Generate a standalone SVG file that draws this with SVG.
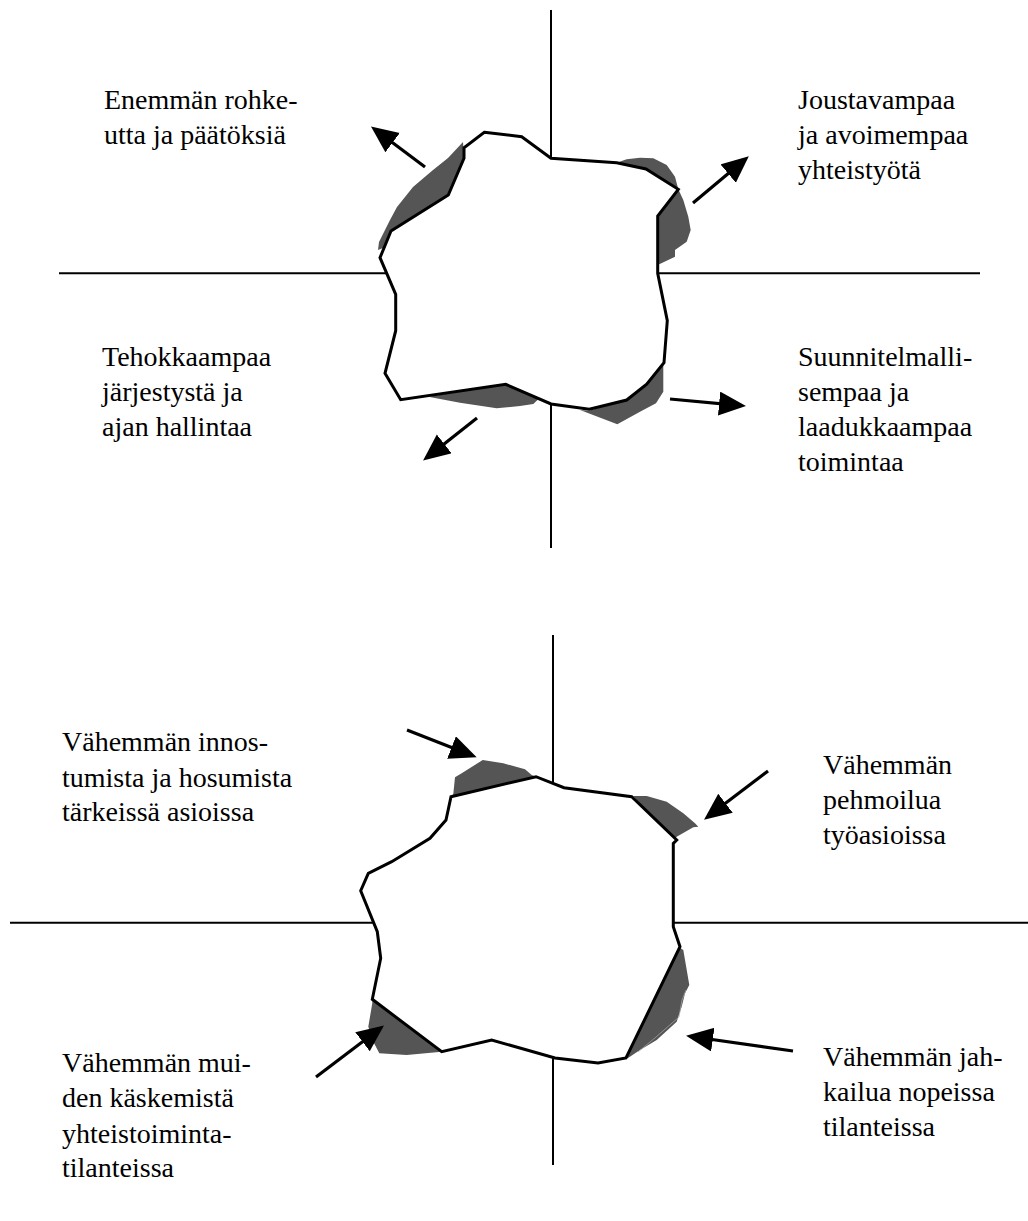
<svg xmlns="http://www.w3.org/2000/svg" width="1028" height="1221" viewBox="0 0 1028 1221">
<style>
.axis{stroke:#000;stroke-width:2;fill:none}
.blob{fill:#fff;stroke:#000;stroke-width:3;stroke-linejoin:miter}
.shade{fill:#555;stroke:none}
.arr{stroke:#000;stroke-width:3.2;fill:none;marker-end:url(#ah)}
.lbl{font-family:'Times New Roman','Liberation Serif',Times,serif;font-size:28px;fill:#000}
</style>
<defs>
<marker id="ah" markerUnits="userSpaceOnUse" markerWidth="30" markerHeight="26" refX="22" refY="12" orient="auto">
<path d="M0,0 L27,12 L0,24 z" fill="#000"/>
</marker>
</defs>
<rect width="1028" height="1221" fill="#fff"/>

<g id="top-diagram">
<g id="top-axes">
<line class="axis" x1="551" y1="10" x2="551" y2="548"/>
<line class="axis" x1="59" y1="273.3" x2="980" y2="273.3"/>
</g>
<g id="top-shading">
<polygon class="shade" points="378,250 379,242 390,220 397,207 413,187 433,170 448,158 463,142 464,158 448,195 391,231 383,248"/>
<polygon class="shade" points="616.7,162.7 626.7,159.3 640,157.7 653.3,158.3 666.7,165 675,176.7 678.3,189.3 683.3,200 688.3,216.7 690.7,230 686.7,241.7 675,250 675,256.7 657.7,265 657.7,216 678.3,189.3 646,169"/>
<polygon class="shade" points="428.3,396.7 505.7,384.3 530,395 538.3,399.3 533.3,404 520,406 496.7,408.3 460,402.7"/>
<polygon class="shade" points="663.3,363.3 663.3,391.7 656,403.3 640,411.7 617.3,424.3 580,410 589.3,410.7 626.7,399.3 646.7,384"/>
</g>
<g id="top-blob">
<polygon class="blob" points="484.3,132.3 521.7,136.7 551,158.3 616.7,162.7 646,169 678.3,189.3 657.7,216 657.7,273.3 667.3,320.7 664,362.7 646.7,384.3 626.7,400 589.3,409.3 551,404 505.7,384.3 400.7,399.7 385,373.3 395.7,330.7 395.7,294.3 380,257.7 391,231 448.3,195 464,158.3 464,147.7"/>
</g>
<g id="top-connectors">
<line class="arr" x1="425" y1="167" x2="375" y2="129.5"/>
<line class="arr" x1="693" y1="203" x2="745" y2="159.5"/>
<line class="arr" x1="477" y1="418" x2="427" y2="457.5"/>
<line class="arr" x1="670" y1="399" x2="741" y2="405.6"/>
</g>
<g id="label-tl" class="lbl">
<text x="104" y="109">Enemmän rohke-</text>
<text x="104" y="144">utta ja päätöksiä</text>
</g>
<g id="label-tr" class="lbl">
<text x="798" y="109">Joustavampaa</text>
<text x="798" y="144">ja avoimempaa</text>
<text x="798" y="179">yhteistyötä</text>
</g>
<g id="label-bl" class="lbl">
<text x="102" y="366">Tehokkaampaa</text>
<text x="102" y="401">järjestystä ja</text>
<text x="102" y="436">ajan hallintaa</text>
</g>
<g id="label-br" class="lbl">
<text x="798" y="366">Suunnitelmalli-</text>
<text x="798" y="401">sempaa ja</text>
<text x="798" y="436">laadukkaampaa</text>
<text x="798" y="471">toimintaa</text>
</g>
</g>

<g id="bottom-diagram">
<g id="bottom-axes">
<line class="axis" x1="553" y1="635" x2="553" y2="1165"/>
<line class="axis" x1="10" y1="922.7" x2="1028" y2="922.7"/>
</g>
<g id="bottom-shading">
<polygon class="shade" points="453.3,794 455,777.3 461.7,773.3 482.7,760 503.3,763.3 525,769.3 531.7,775 536,776.7 451,796.7"/>
<polygon class="shade" points="633.3,796 646.7,796 666.7,801.7 683.3,813.3 695,823.3 698.3,826.7 693.3,827.3 676.7,836.7 673.3,840"/>
<polygon class="shade" points="372.3,1003.3 368.3,1026.7 373.3,1041.7 379.3,1053.3 406.7,1055 441.7,1051.7 372.3,999.3"/>
<polygon class="shade" points="678.3,946.7 683.3,950 689.3,985 685,993.3 681.7,1006.7 676.7,1021.7 656.7,1040 640,1050 628,1058 626,1058"/>
<polyline points="686,990 682,1000 679,1017 656,1037 638,1052" fill="none" stroke="#aaa" stroke-width="0.7"/>
</g>
<g id="bottom-blob">
<polygon class="blob" points="451,796.7 536,776.7 564,787.7 631.7,796.7 676.7,840 673.3,843.3 673.3,926.7 680,946.7 626,1058 598,1063 555,1058 491.7,1040 441.7,1051.7 372.3,999.3 380.7,958.3 377.3,931.7 360.7,890.7 368.3,873.3 391.7,861.7 430,838.3 446,820"/>
</g>
<g id="bottom-connectors">
<line class="arr" x1="407" y1="730" x2="472" y2="755.5"/>
<line class="arr" x1="768" y1="771" x2="708" y2="816.6"/>
<line class="arr" x1="316" y1="1077" x2="380" y2="1028.4"/>
<line class="arr" x1="793" y1="1051" x2="691" y2="1036.5"/>
</g>
<g id="label-b-tl" class="lbl">
<text x="62" y="751">Vähemmän innos-</text>
<text x="62" y="787">tumista ja hosumista</text>
<text x="62" y="821">tärkeissä asioissa</text>
</g>
<g id="label-b-tr" class="lbl">
<text x="823" y="774">Vähemmän</text>
<text x="823" y="809">pehmoilua</text>
<text x="823" y="844">työasioissa</text>
</g>
<g id="label-b-bl" class="lbl">
<text x="62" y="1072">Vähemmän mui-</text>
<text x="62" y="1107">den käskemistä</text>
<text x="62" y="1143">yhteistoiminta-</text>
<text x="62" y="1177">tilanteissa</text>
</g>
<g id="label-b-br" class="lbl">
<text x="823" y="1066">Vähemmän jah-</text>
<text x="823" y="1101">kailua nopeissa</text>
<text x="823" y="1136">tilanteissa</text>
</g>
</g>
</svg>
